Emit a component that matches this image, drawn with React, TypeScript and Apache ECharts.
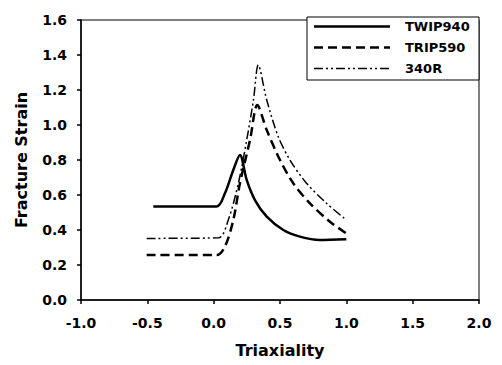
import React, { useEffect, useRef } from "react";
import * as echarts from "echarts";

const xTicks = [-1.0, -0.5, 0.0, 0.5, 1.0, 1.5, 2.0];
const yTicks = [0.0, 0.2, 0.4, 0.6, 0.8, 1.0, 1.2, 1.4, 1.6];

const seriesNames = ["TWIP940", "TRIP590", "340R"];

const twipX = [-0.455, 0.023, 0.085, 0.148, 0.198, 0.249, 0.311, 0.4, 0.525, 0.65, 0.8, 1.0];
const twipY = [0.535, 0.535, 0.61, 0.743, 0.829, 0.686, 0.571, 0.476, 0.4, 0.362, 0.343, 0.347];

const tripX = [-0.505, 0.023, 0.085, 0.148, 0.198, 0.274, 0.329, 0.4, 0.5, 0.6, 0.726, 0.877, 1.0];
const tripY = [0.257, 0.257, 0.305, 0.457, 0.667, 0.914, 1.114, 0.971, 0.8, 0.667, 0.552, 0.447, 0.381];

const r340X = [-0.505, 0.035, 0.11, 0.186, 0.249, 0.3, 0.336, 0.4, 0.487, 0.575, 0.7, 0.852, 1.0];
const r340Y = [0.352, 0.355, 0.457, 0.667, 0.914, 1.143, 1.343, 1.143, 0.933, 0.8, 0.667, 0.552, 0.457];

const pairs = (xs: number[], ys: number[]) => xs.map((x, i) => [x, ys[i]]);

const lineDashes: (number[] | null)[] = [null, [9, 5], [9, 3, 2, 3, 2, 3]];
const lineWidths = [2.5, 2.5, 1.5];

export default function App() {
  const ref = useRef<HTMLDivElement>(null);
  useEffect(() => {
    if (!ref.current) return;
    const chart = echarts.init(ref.current, null, { renderer: "svg" });
    const font = "'DejaVu Sans', Arial, sans-serif";
    const legendGraphic: any[] = [
      {
        type: "rect",
        shape: { x: 307, y: 17, width: 172, height: 63 },
        style: { fill: "#fff", stroke: "#000", lineWidth: 1 },
        z: 10,
      },
    ];
    seriesNames.forEach((n, i) => {
      const y = 26.5 + i * 21;
      legendGraphic.push({
        type: "line",
        shape: { x1: 314, y1: y, x2: 390, y2: y },
        style: { stroke: "#000", lineWidth: lineWidths[i], lineDash: lineDashes[i] || undefined },
        z: 11,
      });
      legendGraphic.push({
        type: "text",
        x: 405,
        y: y,
        style: {
          text: n,
          fill: "#000",
          font: `bold 13px ${font}`,
          verticalAlign: "middle",
        },
        z: 11,
      });
    });
    const labelStyle = {
      fontFamily: font,
      fontSize: 14,
      fontWeight: "bold",
      color: "#000",
      formatter: (v: number) => v.toFixed(1),
    };
    const nameStyle = { fontFamily: font, fontSize: 16, fontWeight: "bold", color: "#000" };
    chart.setOption({
      animation: false,
      backgroundColor: "#fff",
      grid: {
        left: 81,
        top: 20,
        right: 23,
        bottom: 65,
        show: true,
        borderColor: "#000",
        borderWidth: 1,
      },
      graphic: legendGraphic,
      xAxis: {
        type: "value",
        min: xTicks[0],
        max: xTicks[xTicks.length - 1],
        interval: 0.5,
        name: "Triaxiality",
        nameLocation: "middle",
        nameGap: 42,
        nameTextStyle: nameStyle,
        axisLine: { onZero: false, lineStyle: { color: "#000", width: 1.5 } },
        axisTick: { show: true, inside: false, length: 4, lineStyle: { color: "#000", width: 1.5 } },
        axisLabel: { ...labelStyle, margin: 16 },
        splitLine: { show: false },
      },
      yAxis: {
        type: "value",
        min: yTicks[0],
        max: yTicks[yTicks.length - 1],
        interval: 0.2,
        name: "Fracture Strain",
        nameLocation: "middle",
        nameGap: 52,
        nameTextStyle: nameStyle,
        axisLine: { onZero: false, lineStyle: { color: "#000", width: 1.5 } },
        axisTick: { show: true, inside: false, length: 4, lineStyle: { color: "#000", width: 1.5 } },
        axisLabel: { ...labelStyle, margin: 14 },
        splitLine: { show: false },
      },
      series: [
        {
          name: seriesNames[0],
          type: "line",
          data: pairs(twipX, twipY),
          showSymbol: false,
          symbol: "none",
          smooth: 0.3,
          lineStyle: { color: "#000", width: lineWidths[0], type: "solid" },
        },
        {
          name: seriesNames[1],
          type: "line",
          data: pairs(tripX, tripY),
          showSymbol: false,
          symbol: "none",
          smooth: 0.3,
          lineStyle: { color: "#000", width: lineWidths[1], type: lineDashes[1] },
        },
        {
          name: seriesNames[2],
          type: "line",
          data: pairs(r340X, r340Y),
          showSymbol: false,
          symbol: "none",
          smooth: 0.3,
          lineStyle: { color: "#000", width: lineWidths[2], type: lineDashes[2] },
        },
      ],
    });
    return () => chart.dispose();
  }, []);
  return <div ref={ref} style={{ position: "absolute", left: 0, top: 0, width: 502, height: 365 }} />;
}
